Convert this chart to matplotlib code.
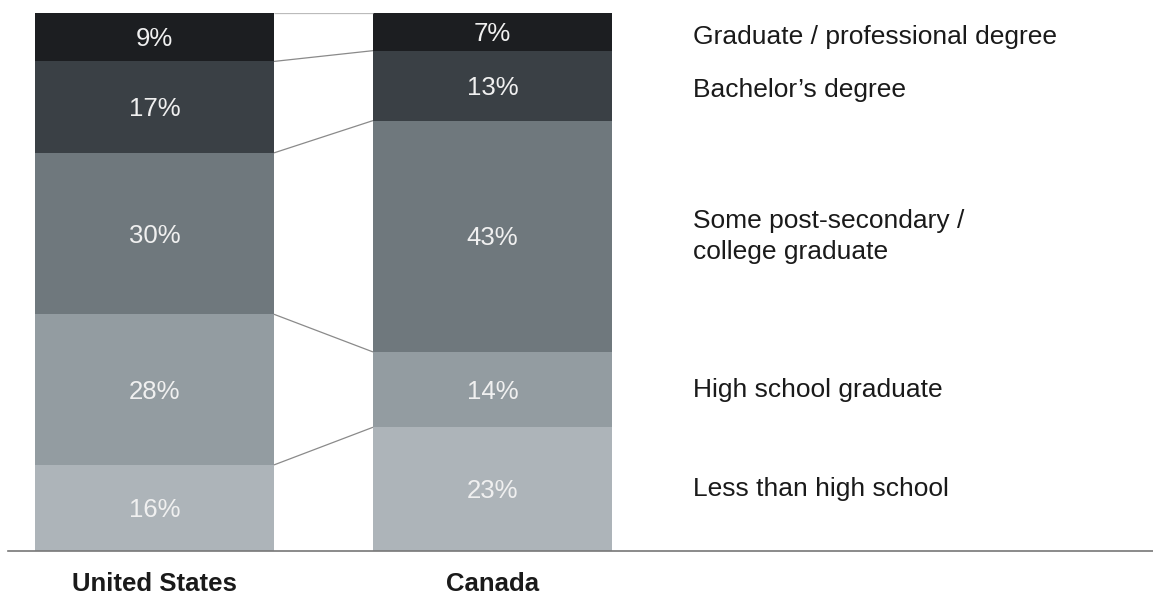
import matplotlib
matplotlib.use("Agg")
from matplotlib import pyplot as plt

# data (bottom to top)
categories = ["Less than high school", "High school graduate",
              "Some post-secondary /\ncollege graduate", "Bachelor\u2019s degree",
              "Graduate / professional degree"]
countries = ["United States", "Canada"]
us_values = [16, 28, 30, 17, 9]
ca_values = [23, 14, 43, 13, 7]

colors = ["#adb4b9", "#939ca1", "#6f787d", "#3a4045", "#1c1e21"]

plt.rcParams['font.family'] = ['Liberation Sans', 'DejaVu Sans']

fig = plt.figure(figsize=(11.53, 5.97), dpi=100)
ax = fig.add_axes([0, 46 / 597, 1, 538 / 597])
ax.set_xlim(-154.5 / 338, (1153 - 154.5) / 338)
ax.set_ylim(0, 100)
ax.axis("off")

width = 239 / 338
xs = [0, 1]
series = [us_values, ca_values]

for x, vals in zip(xs, series):
    bottom = 0
    for v, c in zip(vals, colors):
        ax.bar(x, v, width=width, bottom=bottom, color=c, edgecolor="none")
        ax.text(x, bottom + v / 2 - 0.4, f"{v}%", ha="center", va="center",
                color="#f0f0f0", fontsize=18.5)
        bottom += v

# connectors between the two bars
us_cum = 0
ca_cum = 0
for uv, cv in zip(us_values, ca_values):
    us_cum += uv
    ca_cum += cv
    ax.plot([width / 2, 1 - width / 2], [us_cum, ca_cum],
            color="#bbbbbb" if us_cum == 100 else "#8a8a8a", lw=0.9,
            solid_capstyle="butt")

# category labels on the right, aligned with the Canada segments
ca_bottom = 0
for i, (cat, cv) in enumerate(zip(categories, ca_values)):
    shift = -0.9 if i >= 3 else 0
    ax.text(1.593, ca_bottom + cv / 2 + shift, cat, ha="left", va="center",
            color="#1a1a1a", fontsize=19, linespacing=1.35)
    ca_bottom += cv

# baseline
ax.plot([-0.433, 2.954], [0, 0], color="#777777", lw=1.2, clip_on=False)

for x, name in zip(xs, countries):
    ax.text(x, -7.4, name, ha="center", va="baseline", fontsize=18.5,
            fontweight="bold", color="#1a1a1a")

fig.savefig("out.png", dpi=100)
